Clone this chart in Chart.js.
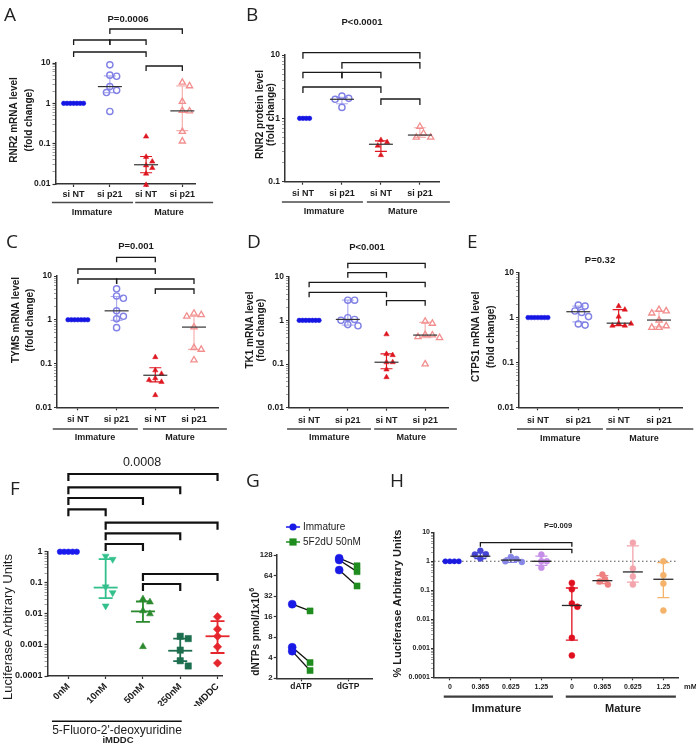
<!DOCTYPE html>
<html><head><meta charset="utf-8">
<script src="https://cdn.jsdelivr.net/npm/chart.js@4.4.1/dist/chart.umd.min.js"></script>
<style>
html,body{margin:0;padding:0;background:#fff;}
#wrap{position:relative;width:696px;height:743px;overflow:hidden;background:#fff}
#wrap canvas{position:absolute;left:0;top:0}
</style></head><body><div id="wrap"></div>
<script>
// ================= DATA =================
const groupCats  = ['si NT','si p21','si NT','si p21'];
const groupNames = ['Immature','Mature'];
const yTicksFold = [0.01,0.1,1,10];
const yLabelsFold = ['0.01','0.1','1','10'];
const yTicksProt = [0.1,1,10];
const yLabelsProt = ['0.1','1','10'];

// A: RNR2 mRNA level
const A_immNT  = [1,1,1,1,1,1,1];
const A_immP21 = [9.0,5.0,4.7,2.6,2.1,1.85,0.63];
const A_matNT  = [0.15,0.047,0.036,0.029,0.025,0.018,0.0095];
const A_matP21 = [3.3,2.7,1.1,0.66,0.64,0.2,0.115];
const A_median = [null,2.6,0.03,0.65];
const A_low    = [null,1.85,0.019,0.21];
const A_high   = [null,4.8,0.048,2.7];

// B: RNR2 protein level
const B_immNT  = [1,1,1,1];
const B_immP21 = [2.25,2.07,2.0,1.49];
const B_matNT  = [0.455,0.42,0.37,0.263];
const B_matP21 = [0.74,0.58,0.5,0.5];
const B_median = [null,2.0,0.39,0.545];
const B_low    = [null,1.7,0.3,0.5];
const B_high   = [null,2.15,0.44,0.71];

// C: TYMS mRNA level
const C_immNT  = [1,1,1,1,1,1,1];
const C_immP21 = [5.1,3.5,3.1,1.6,1.2,1.05,0.66];
const C_matNT  = [0.14,0.07,0.058,0.046,0.042,0.038,0.019];
const C_matP21 = [1.4,1.3,1.2,0.68,0.23,0.21,0.12];
const C_median = [null,1.6,0.054,0.68];
const C_low    = [null,0.97,0.038,0.21];
const C_high   = [null,3.4,0.08,1.2];

// D: TK1 mRNA level
const D_immNT  = [1,1,1,1,1,1,1];
const D_immP21 = [2.9,2.9,1.15,1.05,1.0,0.8,0.75];
const D_matNT  = [0.48,0.17,0.16,0.11,0.11,0.075,0.05];
const D_matP21 = [0.95,0.85,0.47,0.46,0.42,0.4,0.1];
const D_median = [null,1.05,0.11,0.46];
const D_low    = [null,0.78,0.078,0.4];
const D_high   = [null,2.9,0.17,0.9];

// E: CTPS1 mRNA level
const E_immNT  = [1,1,1,1,1,1,1];
const E_immP21 = [1.9,1.8,1.4,1.3,1.05,0.72,0.68];
const E_matNT  = [1.8,1.5,1.05,0.74,0.66,0.66,0.73];
const E_matP21 = [1.5,1.4,1.25,0.87,0.65,0.6,0.6];
const E_median = [null,1.35,0.75,0.88];
const E_low    = [null,0.8,0.66,0.62];
const E_high   = [null,1.8,1.5,1.4];

// F: Luciferase, 5-Fluoro-2'-deoxyuridine
const F_cats   = ['0nM','10nM','50nM','250nM','mMDDC'];
const F_0nM    = [1,1,1,1,1];
const F_10nM   = [0.72,0.57,0.074,0.048,0.018];
const F_50nM   = [0.03,0.024,0.0125,0.01,0.00088];
const F_250nM  = [0.0019,0.0016,0.00068,0.00031,0.00021];
const F_mMDDC  = [0.0081,0.0032,0.0019,0.00087,0.00026];
const F_median = [null,0.07,0.012,0.00065,0.0019];
const F_low    = [null,0.032,0.0055,0.0003,0.00055];
const F_high   = [null,0.58,0.025,0.0016,0.0058];
const F_yTicks = [0.0001,0.001,0.01,0.1,1];
const F_yLabels = ['0.0001','0.001','0.01','0.1','1'];

// G: dNTPs
const G_cats      = ['dATP','dGTP'];
const G_series    = ['Immature','5F2dU 50nM'];
const G_imm_dATP  = [24.4,5.7,5.0];
const G_trt_dATP  = [19.4,3.4,2.6];
const G_imm_dGTP  = [115,108,77];
const G_trt_dGTP  = [89,73,45];
const G_yTicks    = [2,4,8,16,32,64,128];
const G_yLabels   = ['2','4','8','16','32','64','128'];

// H: % Luciferase
const H_doses   = ['0','0.365','0.625','1.25','0','0.365','0.625','1.25'];
const H_imm0    = [1,1,1,1];
const H_imm0365 = [2.3,1.75,1.7,1.25];
const H_imm0625 = [1.4,1.2,1.0,0.95];
const H_imm125  = [1.7,1.0,1.0,0.6];
const H_mat0    = [0.18,0.108,0.035,0.027,0.0023,0.00057];
const H_mat0365 = [0.35,0.24,0.2,0.157];
const H_mat0625 = [4.4,0.56,0.3,0.157];
const H_mat125  = [1.0,0.33,0.17,0.02];
const H_median  = [null,1.5,1.1,1.0,0.03,0.215,0.43,0.24];
const H_low     = [null,1.25,0.92,0.72,0.0019,0.17,0.19,0.056];
const H_high    = [null,2.0,1.3,1.5,0.12,0.32,3.4,0.9];
const H_yTicks  = [0.0001,0.001,0.01,0.1,1,10];
const H_yLabels = ['0.0001','0.001','0.01','0.1','1','10'];

// ================= HELPERS =================
const W=696, H=743;
const SANS='"Liberation Sans", Arial, Helvetica, sans-serif';
const LETTER='"Open Sans", "Liberation Sans", sans-serif';
const wrap=document.getElementById('wrap');
function fnt(size,bold){return (bold?'bold ':'')+size+'px '+SANS;}
function cf(size,bold){return {family:SANS,size:size,weight:bold?'bold':'normal'};}

function logTickList(majors,minors){
  const out=[];
  majors.forEach((m,i)=>{
    out.push({value:m,mj:true});
    if(minors && i<majors.length-1) for(let k=2;k<=9;k++) out.push({value:m*k,mj:false});
  });
  return out;
}
function text(ctx,s,x,y,font,o){
  o=o||{};
  ctx.save(); ctx.font=font; ctx.fillStyle=o.color||'#1c1c1c';
  ctx.textAlign=o.align||'center'; ctx.textBaseline=o.base||'middle';
  ctx.translate(x,y); if(o.rot) ctx.rotate(o.rot); ctx.fillText(s,0,0); ctx.restore();
}
function swarm(chart){
  const xs=chart.scales.x, ys=chart.scales.y;
  const unit=xs.getPixelForValue(1)-xs.getPixelForValue(0);
  chart.data.datasets.forEach(ds=>{
    if(!ds.swarm) return;
    const placed=[], g=ds.swarm, step=g/2;
    ds.data.forEach(pt=>{
      const py=ys.getPixelForValue(pt.y);
      let off=0;
      for(let k=0;k<80;k++){
        const cand=(k===0)?0:((k%2)?1:-1)*Math.ceil(k/2)*step;
        if(placed.every(q=>Math.hypot(q[0]-cand,q[1]-py)>=g-0.01)){off=cand;break;}
      }
      placed.push([off,py]);
      pt.x=ds.cat+off/unit;
    });
  });
  chart.update('none');
}
function statsPlugin(st){
  return {
    id:'stats',
    beforeDatasetsDraw(chart){
      if(!st) return;
      const ctx=chart.ctx, xs=chart.scales.x, ys=chart.scales.y;
      ctx.save(); ctx.lineWidth=st.lw;
      st.lo.forEach((lo,i)=>{
        if(lo==null) return;
        const x=xs.getPixelForValue(i), y1=ys.getPixelForValue(lo), y2=ys.getPixelForValue(st.hi[i]);
        ctx.strokeStyle=st.err[i];
        ctx.beginPath(); ctx.moveTo(x,y1); ctx.lineTo(x,y2);
        ctx.moveTo(x-st.cap,y1); ctx.lineTo(x+st.cap,y1);
        ctx.moveTo(x-st.cap,y2); ctx.lineTo(x+st.cap,y2); ctx.stroke();
      });
      ctx.restore();
    },
    afterDatasetsDraw(chart){
      if(!st) return;
      const ctx=chart.ctx, xs=chart.scales.x, ys=chart.scales.y;
      ctx.save(); ctx.lineWidth=st.mlw||st.lw;
      st.med.forEach((m,i)=>{
        if(m==null) return;
        const x=xs.getPixelForValue(i), y=ys.getPixelForValue(m);
        ctx.strokeStyle=st.medColor[i];
        ctx.beginPath(); ctx.moveTo(x-st.medW,y); ctx.lineTo(x+st.medW,y); ctx.stroke();
      });
      ctx.restore();
    }
  };
}
function decorPlugin(cfg){
  return {
    id:'decor',
    beforeDatasetsDraw(chart){ if(cfg.under) cfg.under(chart.ctx,chart); },
    afterDraw(chart){
      const ctx=chart.ctx, X=v=>chart.scales.x.getPixelForValue(v);
      if(cfg.letter) text(ctx,cfg.letter[0],cfg.letter[1],cfg.letter[2],'19px '+LETTER,{align:'left',base:'alphabetic',color:'#222'});
      (cfg.yTitle||[]).forEach(t=>text(ctx,t[0],t[1],t[2],t[3],{rot:-Math.PI/2}));
      (cfg.texts||[]).forEach(t=>text(ctx,t[0],t[1],t[2],t[3],t[4]||{}));
      if(cfg.brackets){
        const b=cfg.brackets; ctx.save(); ctx.strokeStyle=b.color||'#1a1a1a'; ctx.lineWidth=b.lw;
        b.list.forEach(([a,c,y])=>{ctx.beginPath();ctx.moveTo(X(a),y+b.leg);ctx.lineTo(X(a),y);ctx.lineTo(X(c),y);ctx.lineTo(X(c),y+b.leg);ctx.stroke();});
        ctx.restore();
      }
      if(cfg.groups){
        const g=cfg.groups; ctx.save(); ctx.strokeStyle=g.color; ctx.lineWidth=g.lw;
        g.list.forEach(it=>{ctx.beginPath();ctx.moveTo(X(it.a),g.y);ctx.lineTo(X(it.b),g.y);ctx.stroke(); if(it.t) text(ctx,it.t,X(it.lx),g.ly,g.font);});
        ctx.restore();
      }
      if(cfg.extra) cfg.extra(ctx,chart);
    }
  };
}
function panel(cfg){
  const cv=document.createElement('canvas'); cv.width=W; cv.height=H; cv.style.width=W+'px'; cv.style.height=H+'px'; wrap.appendChild(cv);
  const YW=44, XH=30, p=cfg.plot;
  const yt=logTickList(cfg.yMajors,cfg.yMinor);
  const ylab={}; cfg.yMajors.forEach((v,i)=>ylab[v]=cfg.yLabels[i]);
  const chart=new Chart(cv,{
    type:'scatter',
    data:{datasets:cfg.datasets},
    options:{
      responsive:false, animation:false, devicePixelRatio:1, events:[],
      layout:{padding:{left:p.L-YW, top:p.T, right:W-p.R, bottom:H-p.B-XH}},
      plugins:{legend:{display:false}, tooltip:{enabled:false}},
      scales:{
        x:{type:'linear', min:cfg.xmin, max:cfg.xmax,
          afterFit:s=>{s.height=XH;},
          afterBuildTicks:s=>{s.ticks=cfg.xLabels.map((_,i)=>({value:i}));},
          ticks:{autoSkip:false, maxRotation:cfg.xRot||0, minRotation:cfg.xRot||0, padding:cfg.xPad, color:'#1c1c1c', font:cfg.xFont, callback:(v)=>cfg.xLabels[Math.round(v)]},
          grid:{display:true, drawOnChartArea:false, drawTicks:true, tickLength:3, tickColor:'#333', tickWidth:1.2},
          border:{display:true, color:'#333', width:1.5}
        },
        y:{type:'logarithmic', min:cfg.ymin, max:cfg.ymax,
          afterFit:s=>{s.width=YW;},
          afterBuildTicks:s=>{s.ticks=yt.map(t=>({value:t.value,mj:t.mj}));},
          ticks:{autoSkip:false, padding:cfg.yPad, color:'#1c1c1c', font:cfg.yFont, callback:(v,i,ts)=>(ts[i]&&ts[i].mj)?ylab[v]:''},
          grid:{display:true, drawOnChartArea:false, drawTicks:true, tickLength:3,
            tickColor:c=>(c.tick&&c.tick.mj)?'#333':'#888', tickWidth:c=>(c.tick&&c.tick.mj)?1.2:0.8},
          border:{display:true, color:'#333', width:1.5}
        }
      }
    },
    plugins:[statsPlugin(cfg.stats), decorPlugin(cfg)]
  });
  swarm(chart);
  return chart;
}
function ptSet(vals,cat,o){
  return {data:vals.map(v=>({x:cat,y:v})), cat:cat, swarm:o.gap, pointStyle:o.shape||'circle', pointRadius:o.r,
    pointRotation:o.rot||0, pointBackgroundColor:o.fill, pointBorderColor:o.stroke||o.fill,
    pointBorderWidth:o.bw==null?0.5:o.bw, clip:false};
}
const OPEN='rgba(255,255,255,0)';
function abcdeSets(a,b,c,d){
  return [
    ptSet(a,0,{gap:3.3,r:2.3,fill:'#1616e4'}),
    ptSet(b,1,{gap:6.8,r:3.1,fill:OPEN,stroke:'#8181e6',bw:1.4}),
    ptSet(c,2,{gap:6.2,r:3.1,shape:'triangle',fill:'#de1620'}),
    ptSet(d,3,{gap:7.2,r:3.6,shape:'triangle',fill:OPEN,stroke:'#f28e8e',bw:1.3})
  ];
}
function abcdeStats(med,lo,hi){
  return {med:med,lo:lo,hi:hi,err:[null,'#aeaef0','#de1620','#f5b0b0'],medColor:['#333','#333','#333','#333'],medW:12,cap:6,lw:1.2};
}
function abcde(o){
  return panel({
    plot:o.plot, xmin:o.xmin, xmax:o.xmax, ymin:o.ymin, ymax:o.ymax,
    yMajors:o.yMajors, yLabels:o.yLabels, yMinor:true,
    xLabels:groupCats, xFont:cf(9,true), xPad:o.xPad, yFont:cf(8.5,true), yPad:2,
    datasets:abcdeSets(o.d[0],o.d[1],o.d[2],o.d[3]),
    stats:abcdeStats(o.med,o.lo,o.hi),
    letter:o.letter,
    yTitle:[[o.title,o.tx[0],o.ty,fnt(10,true)],['(fold change)',o.tx[1],o.ty,fnt(10,true)]],
    texts:[[o.p,o.px,o.py,fnt(9.5,true)]],
    brackets:o.br?{lw:1.3,leg:o.leg||5,list:o.br}:null,
    groups:{y:o.gy,ly:o.gly,lw:1.6,color:'#4a4a4a',font:fnt(9,true),
      list:[{a:o.g[0],b:o.g[1],t:groupNames[0],lx:o.g[2]},{a:o.g[3],b:o.g[4],t:groupNames[1],lx:o.g[5]}]}
  });
}

// ================= PANELS =================
// A
abcde({plot:{L:55.5,T:63,R:195,B:184}, xmin:-0.5, xmax:3.35, ymin:0.01, ymax:10, yMajors:yTicksFold, yLabels:yLabelsFold,
  xPad:2.6, d:[A_immNT,A_immP21,A_matNT,A_matP21], med:A_median, lo:A_low, hi:A_high,
  letter:['A',4,20.5], title:'RNR2 mRNA level', tx:[14.3,29], ty:120, p:'P=0.0006', px:128, py:19,
  br:[[1,3,29],[0,1,40],[1,2,40],[0,2,52],[2,3,66]], leg:5,
  gy:202.5, gly:212.5, g:[-0.6,1.64,0.51,1.7,3.85,2.63]});
// B
abcde({plot:{L:285,T:55,R:439,B:181.7}, xmin:-0.46, xmax:3.49, ymin:0.1, ymax:10, yMajors:yTicksProt, yLabels:yLabelsProt,
  xPad:3.9, d:[B_immNT,B_immP21,B_matNT,B_matP21], med:B_median, lo:B_low, hi:B_high,
  letter:['B',246,20.5], title:'RNR2 protein level', tx:[260.5,271], ty:114.5, p:'P<0.0001', px:362, py:22,
  br:[[0,3,52.7],[1,3,62.7],[0,1,72.3],[1,2,72.3],[0,2,87],[2,3,99]], leg:6,
  gy:202, gly:212, g:[-0.54,1.54,0.54,1.64,3.77,2.56]});
// C
abcde({plot:{L:57,T:276,R:218,B:407.3}, xmin:-0.54, xmax:3.62, ymin:0.01, ymax:10, yMajors:yTicksFold, yLabels:yLabelsFold,
  xPad:4.3, d:[C_immNT,C_immP21,C_matNT,C_matP21], med:C_median, lo:C_low, hi:C_high,
  letter:['C',6,248], title:'TYMS mRNA level', tx:[16.7,30], ty:320, p:'P=0.001', px:136, py:246.5,
  br:[[1,2,257.3],[0,2,269],[0,1,279],[1,3,279],[2,3,289]], leg:5,
  gy:429, gly:438, g:[-0.65,1.55,0.44,1.68,3.85,2.64]});
// D
abcde({plot:{L:289,T:276.7,R:448,B:407.7}, xmin:-0.52, xmax:3.59, ymin:0.01, ymax:10, yMajors:yTicksFold, yLabels:yLabelsFold,
  xPad:4.6, d:[D_immNT,D_immP21,D_matNT,D_matP21], med:D_median, lo:D_low, hi:D_high,
  letter:['D',247,248], title:'TK1 mRNA level', tx:[250,261.7], ty:330, p:'P<0.001', px:367, py:247.5,
  br:[[1,3,263.3],[1,2,272.7],[0,3,282.3],[0,2,292.3],[2,3,300.7]], leg:5,
  gy:429, gly:438, g:[-0.57,1.6,0.52,1.68,3.82,2.64]});
// E
abcde({plot:{L:519,T:272.7,R:682,B:407.3}, xmin:-0.47, xmax:3.57, ymin:0.01, ymax:10, yMajors:yTicksFold, yLabels:yLabelsFold,
  xPad:5, d:[E_immNT,E_immP21,E_matNT,E_matP21], med:E_median, lo:E_low, hi:E_high,
  letter:['E',467,248], title:'CTPS1 mRNA level', tx:[476.7,491.3], ty:336.7, p:'P=0.32', px:600, py:260.7,
  br:null, gy:429, gly:439, g:[-0.52,1.61,0.55,1.69,3.85,2.63]});

// F
const F_col=['#1a1aee','#33c08c','#2b8a2e','#1d6e4f','#e5262c'];
panel({
  plot:{L:47.5,T:551.7,R:222,B:676}, xmin:-0.56, xmax:4.12, ymin:0.0001, ymax:1,
  yMajors:F_yTicks, yLabels:F_yLabels, yMinor:true,
  xLabels:F_cats, xRot:45, xFont:cf(9.5,true), xPad:2, yFont:cf(9,true), yPad:2,
  datasets:[
    ptSet(F_0nM,0,{gap:4.2,r:2.8,fill:F_col[0]}),
    ptSet(F_10nM,1,{gap:7,r:4,shape:'triangle',rot:180,fill:F_col[1]}),
    ptSet(F_50nM,2,{gap:7,r:4,shape:'triangle',fill:F_col[2]}),
    ptSet(F_250nM,3,{gap:8,r:4.5,shape:'rect',fill:F_col[3]}),
    ptSet(F_mMDDC,4,{gap:7,r:4.2,shape:'rectRot',fill:F_col[4]})
  ],
  stats:{med:F_median,lo:F_low,hi:F_high,err:F_col,medColor:F_col,medW:12,cap:7,lw:1.8},
  letter:['F',10,495],
  yTitle:[['Luciferase Arbitrary Units',8,627,fnt(13,false)]],
  texts:[['0.0008',142,463,fnt(12.5,false)],
         ["5-Fluoro-2'-deoxyuridine",117,734,fnt(12,false),{base:'alphabetic'}],
         ['iMDDC',118,742.8,fnt(9.5,true),{base:'alphabetic'}]],
  brackets:{lw:2.2,leg:7,color:'#111',list:[[0,4,474],[0,3,487.3],[0,2,498],[0,1,509.3],[1,4,522.7],[1,3,533.3],[1,2,544],[2,4,574],[2,3,584]]},
  groups:{y:721.2,ly:0,lw:1.6,color:'#111',font:fnt(9,true),list:[{a:-0.44,b:3.04}]}
});

// G
const G_col=['#1a1ae6','#1e8c1e'];
(function(){
  const sets=[];
  [[G_imm_dATP,G_trt_dATP],[G_imm_dGTP,G_trt_dGTP]].forEach((pair,c)=>{
    pair[0].forEach((v,k)=>{
      sets.push({type:'line',data:[{x:c-0.19,y:v},{x:c+0.19,y:pair[1][k]}],borderColor:'#111',borderWidth:1.3,pointRadius:0,clip:false,order:2});
    });
  });
  sets.push({label:G_series[0],data:[...G_imm_dATP.map(v=>({x:-0.19,y:v})),...G_imm_dGTP.map(v=>({x:1-0.19,y:v}))],
    pointStyle:'circle',pointRadius:4,pointBackgroundColor:G_col[0],pointBorderColor:G_col[0],pointBorderWidth:0.5,clip:false,order:1});
  sets.push({label:G_series[1],data:[...G_trt_dATP.map(v=>({x:0.19,y:v})),...G_trt_dGTP.map(v=>({x:1.19,y:v}))],
    pointStyle:'rect',pointRadius:4.3,pointBackgroundColor:G_col[1],pointBorderColor:G_col[1],pointBorderWidth:0.5,clip:false,order:0});
  panel({
    plot:{L:276.7,T:555,R:373,B:678.3}, xmin:-0.52, xmax:1.53, ymin:2, ymax:128,
    yMajors:G_yTicks, yLabels:G_yLabels, yMinor:false,
    xLabels:G_cats, xFont:cf(8.5,true), xPad:0.5, yFont:cf(7.8,true), yPad:1,
    datasets:sets, stats:null,
    letter:['G',246,487],
    extra(ctx){
      ctx.save(); ctx.translate(256,632); ctx.rotate(-Math.PI/2);
      ctx.fillStyle='#1c1c1c'; ctx.textBaseline='middle'; ctx.textAlign='left';
      const main='dNTPs pmol/1x10';
      ctx.font=fnt(10,true); const w=ctx.measureText(main).width;
      ctx.font=fnt(7,true); const w2=ctx.measureText('6').width;
      const x0=-(w+w2)/2;
      ctx.font=fnt(10,true); ctx.fillText(main,x0,0);
      ctx.font=fnt(7,true); ctx.fillText('6',x0+w+0.5,-4);
      ctx.restore();
      G_series.forEach((lab,i)=>{
        const y=527+i*15, x=293;
        ctx.save(); ctx.strokeStyle=G_col[i]; ctx.fillStyle=G_col[i]; ctx.lineWidth=1.5;
        ctx.beginPath(); ctx.moveTo(x-7,y); ctx.lineTo(x+7,y); ctx.stroke();
        ctx.beginPath();
        if(i===0){ctx.arc(x,y,3.6,0,Math.PI*2);ctx.fill();} else {ctx.fillRect(x-3.6,y-3.6,7.2,7.2);}
        ctx.restore();
        text(ctx,lab,303,y,fnt(10,false),{align:'left'});
      });
    }
  });
})();

// H
const H_col=['#1a1ae0','#4646d6','#8585e6','#c58ee8','#e01020','#ee8080','#f4a4ac','#f5b26a'];
panel({
  plot:{L:434,T:532.3,R:678,B:677.3}, xmin:-0.52, xmax:7.48, ymin:0.0001, ymax:10,
  yMajors:H_yTicks, yLabels:H_yLabels, yMinor:true,
  xLabels:H_doses, xFont:cf(7,true), xPad:2.2, yFont:cf(7,true), yPad:1,
  datasets:[H_imm0,H_imm0365,H_imm0625,H_imm125,H_mat0,H_mat0365,H_mat0625,H_mat125]
    .map((vals,i)=>ptSet(vals,i,{gap:i===0?4.5:5.5,r:i===0?2.6:3,fill:H_col[i]})),
  stats:{med:H_median,lo:H_low,hi:H_high,err:H_col,medColor:H_col.map(()=>'#2a2a2a'),medW:10,cap:6,lw:1.3},
  under(ctx,chart){
    const y=chart.scales.y.getPixelForValue(1);
    ctx.save(); ctx.strokeStyle='#555'; ctx.lineWidth=1.1; ctx.setLineDash([1.5,2.5]);
    ctx.beginPath(); ctx.moveTo(chart.chartArea.left,y); ctx.lineTo(chart.chartArea.right,y); ctx.stroke(); ctx.restore();
  },
  letter:['H',390,487],
  yTitle:[['% Luciferase Arbitrary Units',398,603.5,fnt(11,true)]],
  texts:[['P=0.009',558,526,fnt(7.5,true)],['mM',684,686.7,fnt(7.5,true),{align:'left'}]],
  brackets:{lw:1.3,leg:4,list:[[1,4,542.7],[2,4,549.3]]},
  groups:{y:696.7,ly:709.3,lw:2.2,color:'#3c3c3c',font:fnt(11,true),
    list:[{a:-0.2,b:3.38,t:groupNames[0],lx:1.53},{a:3.8,b:7.41,t:groupNames[1],lx:5.68}]}
});
</script></body></html>
